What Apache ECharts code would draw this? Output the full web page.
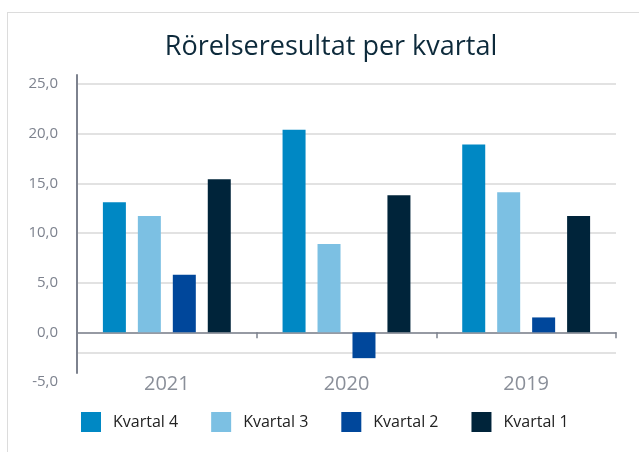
<!DOCTYPE html>
<html>
<head>
<meta charset="utf-8">
<script src="https://cdn.jsdelivr.net/npm/echarts@6/dist/echarts.min.js"></script>
<style>
  html, body { margin: 0; padding: 0; background: #fff; }
  #wrap { position: relative; width: 639px; height: 452px; overflow: hidden; }
  #frame { position: absolute; left: 7px; top: 12px; width: 700px; height: 500px; border: 1px solid #dcdcdc; box-sizing: border-box; }
  #chart { position: absolute; left: 0; top: 0; width: 639px; height: 452px; }
</style>
</head>
<body>
<div id="wrap">
  <div id="frame"></div>
  <div id="chart"></div>
</div>
<script>
const titleText = 'Rörelseresultat per kvartal';
const categories = ['2021', '2020', '2019'];
const seriesNames = ['Kvartal 4', 'Kvartal 3', 'Kvartal 2', 'Kvartal 1'];
const kvartal4 = [13.1, 20.4, 18.9];
const kvartal3 = [11.7, 8.9, 14.1];
const kvartal2 = [5.8, -2.6, 1.5];
const kvartal1 = [15.4, 13.8, 11.7];
const yMin = -5, yMax = 25, yStep = 5;
const extraGridLine = -2.1;

const colors = ['#0088c4', '#7cc0e3', '#00479b', '#00243a'];
const seriesData = [kvartal4, kvartal3, kvartal2, kvartal1];
const fmt = v => v.toFixed(1).replace('.', ',');
const axisGrey = '#7d828e';
const gridGrey = '#e2e2e2';

const chart = echarts.init(document.getElementById('chart'), null, { renderer: 'canvas' });
const series = seriesNames.map((name, i) => {
  const s = {
    name, type: 'bar', data: seriesData[i],
    xAxisIndex: 0, yAxisIndex: 0,
    barWidth: 23, barGap: '52%',
    itemStyle: { color: colors[i] },
    emphasis: { disabled: true }
  };
  if (i === 0) {
    s.markLine = {
      silent: true, symbol: 'none', label: { show: false },
      lineStyle: { color: gridGrey, width: 2, type: 'solid' },
      data: [{ yAxis: extraGridLine }],
      z: 0
    };
  }
  return s;
});

chart.setOption({
  animation: false,
  color: colors,
  title: {
    text: titleText, left: 326, textAlign: 'center', top: 29,
    textStyle: { fontFamily: 'Open Sans', fontWeight: 'normal', fontSize: 27, color: '#0d2a3b' }
  },
  legend: {
    data: seriesNames, left: 81, top: 412, padding: 0,
    icon: 'rect', itemWidth: 20, itemHeight: 20, itemGap: 33,
    textStyle: { fontFamily: 'Open Sans', fontSize: 16, color: '#222', padding: [0, 0, 0, 7] }
  },
  grid: [
    { left: 77, right: 23, top: 84, bottom: 70, containLabel: false },
    { left: 77, right: 23, top: 75, bottom: 79, containLabel: false }
  ],
  xAxis: [{
    type: 'category', data: categories, gridIndex: 0,
    axisLine: { onZero: true, lineStyle: { color: axisGrey, width: 1.5 } },
    axisTick: { show: true, length: 6, lineStyle: { color: axisGrey, width: 1.5 } },
    axisLabel: { margin: -8, fontFamily: 'Open Sans', fontSize: 20, color: '#8a8f99' },
    splitLine: { show: false }
  }, {
    type: 'category', data: categories, gridIndex: 1, show: false
  }],
  yAxis: [{
    type: 'value', min: yMin, max: yMax, interval: yStep, gridIndex: 0,
    axisLine: { show: false },
    axisTick: { show: false },
    axisLabel: { margin: 19, fontFamily: 'Open Sans', fontSize: 15, color: axisGrey, formatter: fmt },
    splitLine: { show: true, lineStyle: { color: ['rgba(0,0,0,0)', gridGrey, gridGrey, gridGrey, gridGrey, gridGrey, gridGrey], width: 2 } }
  }, {
    type: 'value', min: yMin, max: yMax, gridIndex: 1,
    axisLine: { show: true, lineStyle: { color: axisGrey, width: 2 } },
    axisTick: { show: false }, axisLabel: { show: false }, splitLine: { show: false }
  }],
  series
});
</script>
</body>
</html>
